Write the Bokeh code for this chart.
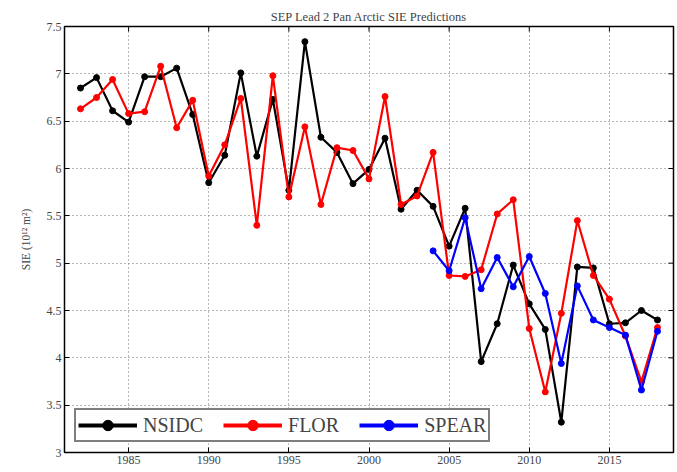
import math
from bokeh.plotting import figure
from bokeh.models import FixedTicker, Range1d, Legend, LegendItem
from bokeh.embed import file_html
from bokeh.resources import INLINE

years = list(range(1982, 2019))
nsidc = [6.85, 6.96, 6.61, 6.49, 6.97, 6.97, 7.06, 6.57, 5.85, 6.14,
         7.01, 6.13, 6.73, 5.77, 7.34, 6.33, 6.17, 5.84, 5.99, 6.32,
         5.57, 5.77, 5.60, 5.18, 5.58, 3.96, 4.36, 4.98, 4.57, 4.30,
         3.32, 4.96, 4.95, 4.36, 4.37, 4.50, 4.40]
flor = [6.63, 6.75, 6.94, 6.58, 6.60, 7.08, 6.43, 6.72, 5.92, 6.25,
        6.74, 5.40, 6.98, 5.70, 6.44, 5.62, 6.22, 6.19, 5.89, 6.76,
        5.62, 5.71, 6.17, 4.87, 4.86, 4.93, 5.52, 5.67, 4.31, 3.64,
        4.47, 5.45, 4.87, 4.62, 4.23, 3.75, 4.32]
spear_years = list(range(2004, 2019))
spear = [5.13, 4.92, 5.48, 4.73, 5.06, 4.75, 5.07, 4.68, 3.94, 4.76,
         4.40, 4.32, 4.24, 3.66, 4.28]

x_ticks = [1985, 1990, 1995, 2000, 2005, 2010, 2015]
y_ticks = [3, 3.5, 4, 4.5, 5, 5.5, 6, 6.5, 7, 7.5]
y_tick_labels = {3: "3", 3.5: "3.5", 4: "4", 4.5: "4.5", 5: "5", 5.5: "5.5",
                 6: "6", 6.5: "6.5", 7: "7", 7.5: "7.5"}

FONT = "Liberation Serif"
X0, X1 = 1981, 2019
Y0, Y1 = 3, 7.5

p = figure(width=677, height=472, output_backend="svg", toolbar_location=None,
           x_range=Range1d(X0, X1), y_range=Range1d(Y0, Y1),
           min_border_left=64, min_border_right=4, min_border_top=26,
           min_border_bottom=20, background_fill_color="white",
           border_fill_color="white")

p.title.text = "SEP Lead 2 Pan Arctic SIE Predictions"
p.title.align = "center"
p.title.text_font = FONT
p.title.text_font_size = "12.5px"
p.title.text_font_style = "normal"
p.title.offset = 0
p.title.standoff = 6

p.outline_line_color = "black"
p.outline_line_width = 1.5

for ax in [p.xaxis[0], p.yaxis[0]]:
    ax.major_tick_in = 5
    ax.major_tick_out = 0
    ax.minor_tick_in = 0
    ax.minor_tick_out = 0
    ax.major_label_text_font = FONT
    ax.major_label_text_font_size = "12px"
    ax.axis_line_color = "black"
    ax.major_tick_line_color = "black"
p.xaxis[0].ticker = FixedTicker(ticks=x_ticks)
p.yaxis[0].ticker = FixedTicker(ticks=y_ticks)
p.yaxis[0].major_label_overrides = y_tick_labels
p.xaxis[0].major_label_standoff = 3
p.yaxis[0].major_label_standoff = 3
p.yaxis[0].axis_label = "SIE (10\u00b9\u00b2 m\u00b2)"
p.yaxis[0].axis_label_text_font = FONT
p.yaxis[0].axis_label_text_font_size = "11.5px"
p.yaxis[0].axis_label_text_font_style = "normal"
p.yaxis[0].axis_label_standoff = 12

# dotted grid lines at the tick positions
for g in [p.xgrid, p.ygrid]:
    g.grid_line_color = "#707070"
    g.grid_line_dash = "1 3"
    g.grid_line_width = 1

# inward tick marks on the top and right edges of the box
p.ray(x=x_ticks, y=[Y1] * len(x_ticks), length=5, length_units="screen",
      angle=-math.pi / 2, line_color="black", line_width=1)
p.ray(x=[X1] * len(y_ticks), y=y_ticks, length=5, length_units="screen",
      angle=math.pi, line_color="black", line_width=1)

NAN = float("nan")
items = []
for xs, ys, col, name in [(years, nsidc, "black", "NSIDC"),
                          (years, flor, "red", "FLOR"),
                          (spear_years, spear, "blue", "SPEAR")]:
    p.line(xs, ys, line_color=col, line_width=2.2)
    p.scatter(xs, ys, marker="circle", size=6, fill_color=col, line_color=col)
    # invisible (NaN) renderers used only for the bolder legend swatches
    lg_line = p.line([NAN], [NAN], line_color=col, line_width=4)
    lg_mark = p.scatter([NAN], [NAN], marker="circle", size=11,
                        fill_color=col, line_color=col)
    items.append(LegendItem(label=name, renderers=[lg_line, lg_mark]))

legend = Legend(items=items, orientation="horizontal", location="bottom_left",
                label_text_font=FONT, label_text_font_size="20px",
                glyph_width=59, glyph_height=26, label_standoff=6, spacing=20,
                padding=2, margin=10, border_line_color="black",
                border_line_width=2, background_fill_alpha=1)
p.add_layout(legend)

open("out.html", "w").write(file_html(p, INLINE))
